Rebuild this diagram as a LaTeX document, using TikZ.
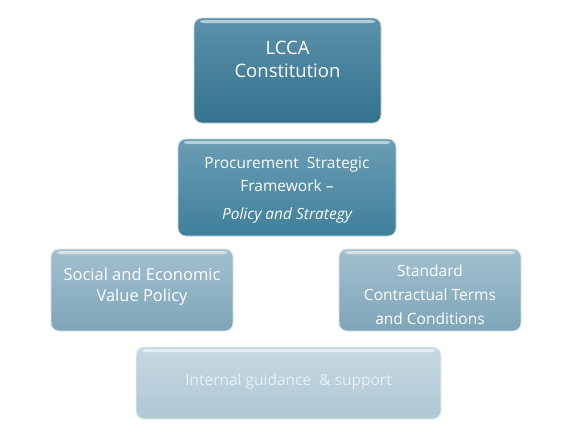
\documentclass[tikz,border=0pt]{standalone}
\usepackage{fontspec}
\setmainfont{Open Sans}
\definecolor{topA}{HTML}{5B91AB}
\definecolor{botA}{HTML}{33728E}
\definecolor{topB}{HTML}{6A9DB5}
\definecolor{botB}{HTML}{3F7F9A}
\definecolor{topC}{HTML}{A2C0CF}
\definecolor{botC}{HTML}{7EA5B9}
\definecolor{topD}{HTML}{C6D8E1}
\definecolor{botD}{HTML}{AFC8D4}
\definecolor{txtD}{HTML}{EAF1F5}
\newcommand{\tiertext}[2]{\raisebox{#1}[0pt][0pt]{\begin{tabular}{@{}c@{}}#2\end{tabular}}}
\tikzset{
  tier/.style={rounded corners=8pt, draw=white!70!#1, line width=0.8pt,
    text=white, align=center, inner sep=0pt,
    path picture={
      \fill[white, opacity=0.55, rounded corners=3pt]
        ([xshift=6pt,yshift=-2pt]path picture bounding box.north west)
        rectangle ([xshift=-6pt,yshift=-5pt]path picture bounding box.north east);
    }},
}
\begin{document}
\begin{tikzpicture}[x=1pt, y=-1pt, font=\fontsize{15.5}{24}\selectfont]
			\useasboundingbox (0,0) rectangle (576,432);
			% top tier
			\node[tier=botA, top color=topA, bottom color=botA, minimum width=187pt, minimum height=105pt,
				font=\fontsize{18.5}{24}\selectfont] (lcca) at (287.5,70.5)
				{\tiertext{5pt}{LCCA\\[-1pt]Constitution}};
			% framework
			\node[tier=botB, top color=topB, bottom color=botB, minimum width=218pt, minimum height=97pt]
				(psf) at (287,187.5)
				{\tiertext{-5pt}{Procurement\ \ Strategic\\[-1pt]Framework --\\[4pt]\itshape Policy and Strategy}};
			% policies
			\node[tier=botC, top color=topC, bottom color=botC, minimum width=182pt, minimum height=82pt,
				font=\fontsize{16.5}{21}\selectfont] (sevp) at (142,290)
				{\tiertext{-1pt}{Social and Economic\\Value Policy}};
			\node[tier=botC, top color=topC, bottom color=botC, minimum width=182pt, minimum height=82pt]
				(sctc) at (430,290)
				{\tiertext{-9pt}{Standard\\Contractual Terms\\and Conditions}};
			% guidance
			\node[tier=botD, top color=topD, bottom color=botD, minimum width=305pt, minimum height=72pt,
				text=txtD] (igs) at (288.5,383) {\tiertext{-1pt}{Internal guidance\ \ \& support}};
		\end{tikzpicture}
\end{document}
